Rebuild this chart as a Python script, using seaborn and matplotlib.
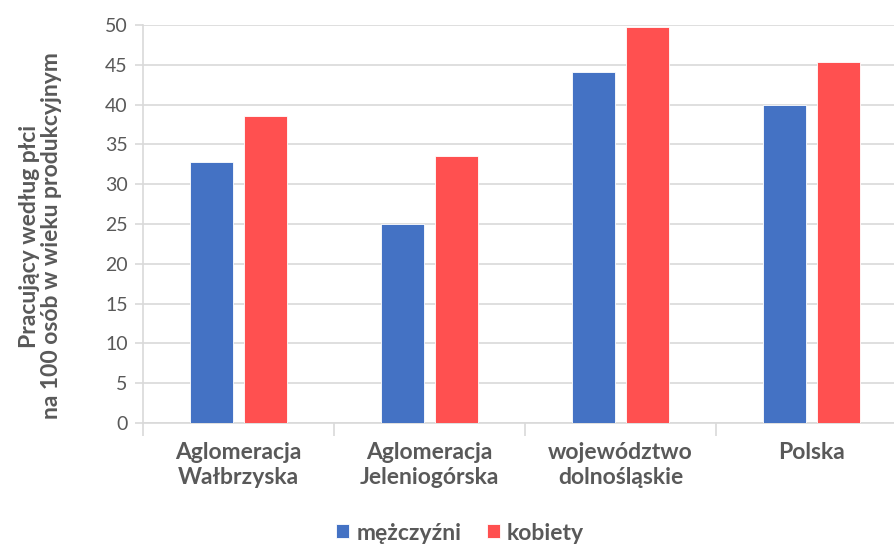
import matplotlib
matplotlib.use("Agg")
import matplotlib.pyplot as plt
import seaborn as sns
import pandas as pd
from matplotlib.ticker import MultipleLocator, FixedLocator

categories = ["Aglomeracja\nWałbrzyska", "Aglomeracja\nJeleniogórska", "województwo\ndolnośląskie", "Polska"]
men = [32.8, 25.0, 44.1, 39.9]
women = [38.6, 33.5, 49.8, 45.4]
series_names = ["mężczyźni", "kobiety"]
colors = ["#4472C4", "#FF5050"]
ylabel = "Pracujący według płci\nna 100 osób w wieku produkcyjnym"

df = pd.DataFrame({
    "cat": categories * 2,
    "val": men + women,
    "sex": [series_names[0]] * 4 + [series_names[1]] * 4,
})

sns.set_style("white")
plt.rcParams["font.family"] = ["Lato", "DejaVu Sans"]

fig = plt.figure(figsize=(8.95, 5.46), dpi=100)
W, H = 895, 546
left, right, top, bottom = 143, 907, 25, 423
ax = fig.add_axes([left / W, (H - bottom) / H, (right - left) / W, (bottom - top) / H])

sns.barplot(data=df, x="cat", y="val", hue="sex", palette=colors, saturation=1, width=0.565, gap=0.2,
            ax=ax, edgecolor="white", linewidth=0.6, legend=True, zorder=3)

gray = "#595959"
line_gray = "#D9D9D9"
ax.set_ylim(0, 50)
ax.set_xlim(-0.5, 3.5)
ax.yaxis.set_major_locator(MultipleLocator(5))
ax.grid(axis="y", color=line_gray, linewidth=1.2, zorder=0)
ax.set_axisbelow(True)
for s in ["top", "right"]:
    ax.spines[s].set_visible(False)
for s in ["left", "bottom"]:
    ax.spines[s].set_color(line_gray)
    ax.spines[s].set_linewidth(1.2)

ax.tick_params(axis="y", which="major", length=6, width=1.2, color=line_gray, labelsize=14,
               labelcolor=gray, pad=5, left=True)
ax.tick_params(axis="x", which="major", length=0, labelsize=16.5, labelcolor=gray, pad=14)
ax.xaxis.set_minor_locator(FixedLocator([-0.5, 0.5, 1.5, 2.5, 3.5]))
ax.tick_params(axis="x", which="minor", length=9, width=1.2, color=line_gray, bottom=True)
for lbl in ax.get_xticklabels():
    lbl.set_fontweight("bold")
    lbl.set_linespacing(1.2)

ax.set_xlabel("")
ax.set_ylabel("")
fig.text(40.5 / W, (H - 236) / H, ylabel, rotation=90, ha="center", va="center",
         multialignment="center", fontsize=16.5, fontweight="bold", color=gray, linespacing=1.1)

leg = ax.legend(loc="center", bbox_to_anchor=(460 / W, (H - 533) / H), bbox_transform=fig.transFigure,
                ncol=2, frameon=False, handlelength=0.57, handleheight=0.57,
                handletextpad=0.3, columnspacing=1.1, prop={"weight": "bold", "size": 16.5})
for t in leg.get_texts():
    t.set_color(gray)

fig.savefig("out.png", dpi=100)
